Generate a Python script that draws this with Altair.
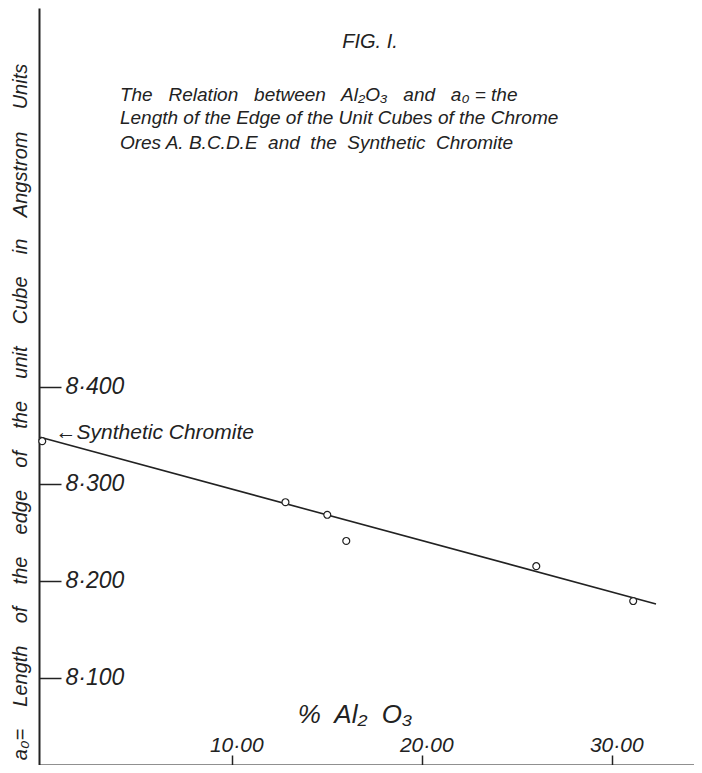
import altair as alt
import pandas as pd

# ---- data ----
al2o3 = [0.0, 12.8, 15.0, 16.0, 26.0, 31.1]          # % Al2O3
a0 = [8.344, 8.281, 8.268, 8.241, 8.215, 8.179]      # unit-cube edge (Å)
sample = ["Synthetic", "A", "B", "C", "D", "E"]

fit_x = [-0.1, 32.3]
fit_y = [8.348, 8.176]

x_ticks = [10, 20, 30]
y_ticks = [8.1, 8.2, 8.3, 8.4]

S = "\u00a0"  # non-breaking space keeps the wide hand-lettered gaps


def sp(words, n):
    return (S * n + " ").join(words)


title_text = "FIG." + S + "I."
subtitle_lines = [
    sp(["The", "Relation", "between", "Al₂O₃", "and", "a₀ = the"], 2),
    "Length of the Edge of the Unit Cubes of the Chrome",
    sp(["Ores A. B.C.D.E", "and", "the", "Synthetic", "Chromite"], 1),
]
y_title = sp(["a₀=", "Length", "of", "the", "edge", "of", "the", "unit",
              "Cube", "in", "Angstrom", "Units"], 3)
x_title = sp(["%", "Al₂", "O₃"], 1)
synth_label = "←Synthetic Chromite"

W, H = 655, 757
FONT = "Liberation Sans"
INK = "#222222"

xs = alt.Scale(domain=[-0.17, 34.30], nice=False, zero=False)
ys = alt.Scale(domain=[8.0098, 8.791], nice=False, zero=False)

pts = pd.DataFrame({"x": al2o3, "y": a0, "sample": sample})
fit = pd.DataFrame({"x": fit_x, "y": fit_y})

base_x = alt.X("x:Q", scale=xs, axis=alt.Axis(
    orient="top", offset=-H, values=x_ticks, title=None, grid=False,
    tickSize=10, tickWidth=1.5, tickColor=INK, domainColor=INK, domainWidth=2,
    labelPadding=0, labelOffset=4, labelFont=FONT, labelFontStyle="italic", labelFontSize=21,
    labelColor=INK, labelExpr="replace(format(datum.value, '.2f'), '.', '·')"))
base_y = alt.Y("y:Q", scale=ys, axis=alt.Axis(
    orient="right", offset=-W, values=y_ticks, title=None, grid=False,
    tickSize=22, tickWidth=1.5, tickColor=INK, domainColor=INK, domainWidth=2,
    labelPadding=4, labelFont=FONT, labelFontStyle="italic", labelFontSize=23,
    labelColor=INK, labelExpr="replace(format(datum.value, '.3f'), '.', '·')"))

line = alt.Chart(fit).mark_line(color=INK, strokeWidth=1.6).encode(x=base_x, y=base_y)

points = alt.Chart(pts).mark_point(
    shape="circle", size=48, filled=True, fill="white", stroke=INK,
    strokeWidth=1.2, opacity=1, fillOpacity=1
).encode(x=alt.X("x:Q", scale=xs), y=alt.Y("y:Q", scale=ys))

ann = pd.DataFrame({
    "x": [17.25, 4.09, 4.09, 4.09, 0.7, 16.46],
    "y": [8.756, 8.7012, 8.6775, 8.6517, 8.3524, 8.0614],
    "t": [title_text] + subtitle_lines + [synth_label, x_title],
    "size": [20, 19, 19, 19, 21, 26],
    "align": ["center", "left", "left", "left", "left", "center"],
})

texts = []
for i, row in ann.iterrows():
    texts.append(
        alt.Chart(ann.iloc[[i]]).mark_text(
            font=FONT, fontStyle="italic", fontSize=int(row["size"]),
            align=row["align"], baseline="middle", color=INK
        ).encode(x=alt.X("x:Q", scale=xs), y=alt.Y("y:Q", scale=ys), text="t:N")
    )

ytitle_df = pd.DataFrame({"x": [-1.117], "y": [8.3741], "t": [y_title]})
ytitle = alt.Chart(ytitle_df).mark_text(
    font=FONT, fontStyle="italic", fontSize=20, angle=270,
    align="center", baseline="middle", color=INK
).encode(x=alt.X("x:Q", scale=xs), y=alt.Y("y:Q", scale=ys), text="t:N")

chart = alt.layer(line, points, ytitle, *texts).properties(
    width=W, height=H,
    autosize=alt.AutoSizeParams(type="none"),
    padding={"left": 31, "top": 0, "right": 0, "bottom": 0},
    background="white",
).configure_view(stroke=None)

chart.save("out.html", embed_options={"renderer": "svg", "actions": False})
